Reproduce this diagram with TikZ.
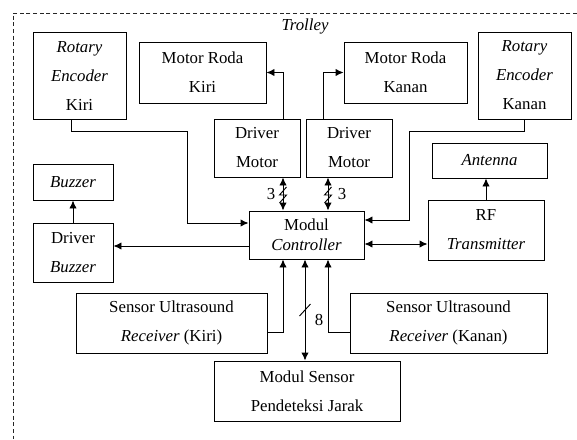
\documentclass[tikz,border=0pt]{standalone}
\usepackage{fontspec}
\setmainfont{LiberationSerif}[Extension=.ttf, UprightFont=*-Regular, ItalicFont=*-Italic, BoldFont=*-Bold, BoldItalicFont=*-BoldItalic]
\usetikzlibrary{arrows.meta}

\begin{document}
\begin{tikzpicture}[x=0.75pt, y=-0.75pt,
        >={Latex[length=6pt,width=5.5pt]},
        blok/.style={draw, line width=0.7pt, align=center, inner sep=0pt,
            font=\fontsize{12.6}{21.75}\selectfont},
        garis/.style={line width=0.7pt},
        lbl/.style={font=\fontsize{12.6}{15}\selectfont, inner sep=0pt}]
        \useasboundingbox (0,0) rectangle (577,439);
        % batas trolley
        \draw[line width=0.7pt, black!85, dash pattern=on 3pt off 2pt] (577,13) -- (13,13) -- (13,439);
        \node[lbl, font=\fontsize{12.6}{15}\selectfont\itshape] (trl) at (305,26) {Trolley};

        % blok-blok
        \node[blok, minimum width=69.75pt, minimum height=65.25pt] (rek) at (79.5,75.5) {\textit{Rotary}\\\textit{Encoder}\\Kiri};
        \node[blok, minimum width=95.25pt, minimum height=45.75pt] (mrk) at (202.5,72.5) {Motor Roda\\Kiri};
        \node[blok, minimum width=92.25pt, minimum height=45.75pt] (mrn) at (405.5,72.5) {Motor Roda\\Kanan};
        \node[blok, minimum width=69.75pt, minimum height=65.25pt] (ren) at (524.5,75.5) {\textit{Rotary}\\\textit{Encoder}\\Kanan};
        \node[blok, minimum width=64.5pt, minimum height=43.5pt] (dmk) at (257,148) {Driver\\Motor};
        \node[blok, minimum width=64.5pt, minimum height=43.5pt] (dmn) at (349,148) {Driver\\Motor};
        \node[blok, minimum width=86.25pt, minimum height=26.25pt] (ant) at (489.5,160.5) {\textit{Antenna}};
        \node[blok, minimum width=60pt, minimum height=27pt] (buz) at (73,182) {\textit{Buzzer}};
        \node[blok, minimum width=60pt, minimum height=44.25pt] (dbz) at (73,252.5) {Driver\\\textit{Buzzer}};
        \node[blok, minimum width=86.25pt, minimum height=36pt, font=\fontsize{12.6}{15}\selectfont] (mc) at (306.5,235) {Modul\\\textit{Controller}};
        \node[blok, minimum width=87pt, minimum height=45pt] (rf) at (486,230) {RF\\\textit{Transmitter}};
        \node[blok, minimum width=143.25pt, minimum height=45pt] (usk) at (171.5,323) {Sensor Ultrasound\\\textit{Receiver} (Kiri)};
        \node[blok, minimum width=147.75pt, minimum height=45pt] (usn) at (448.5,323) {Sensor Ultrasound\\\textit{Receiver} (Kanan)};
        \node[blok, minimum width=139.5pt, minimum height=45pt] (msj) at (307,391) {Modul Sensor\\Pendeteksi Jarak};

        % encoder ke controller
        \draw[garis, ->] (rek.south -| 71,0) |- (187,131) |- (mc.west |- 0,223);
        \draw[garis, ->] (ren.south) |- (409,131) |- (mc.east |- 0,220);
        % driver ke motor
        \draw[garis, ->] (dmk.north -| 283,0) |- (mrk.east);
        \draw[garis, ->] (dmn.north -| 323,0) |- (mrn.west);
        % bus 3 bit
        \draw[garis, <->] (dmk.south -| 283,0) -- (mc.north -| 283,0);
        \draw[garis, <->] (dmn.south -| 328,0) -- (mc.north -| 328,0);
        \draw[garis] (286.5,187) -- (279.5,195) -- (286.5,195) -- (279.5,203);
        \draw[garis] (331.5,187) -- (324.5,195) -- (331.5,195) -- (324.5,203);
        \node[lbl] (b3k) at (271,194) {3};
        \node[lbl] (b3n) at (342,194) {3};
        % buzzer
        \draw[garis, ->] (mc.west |- 0,246) -- (dbz.east |- 0,246);
        \draw[garis, ->] (dbz.north) -- (buz.south);
        % rf
        \draw[garis, <->] (mc.east |- 0,244) -- (rf.west |- 0,244);
        \draw[garis, ->] (rf.north) -- (rf.north |- ant.south);
        % sensor ultrasound
        \draw[garis, ->] (usk.east |- 0,332) -| (mc.south -| 283,0);
        \draw[garis, ->] (usn.west |- 0,332) -| (mc.south -| 328,0);
        \draw[garis, <->] (mc.south -| 305,0) -- (msj.north -| 305,0);
        \draw[garis] (299.5,316) -- (310.5,304);
        \node[lbl] (b8) at (319,320) {8};
    \end{tikzpicture}
\end{document}
